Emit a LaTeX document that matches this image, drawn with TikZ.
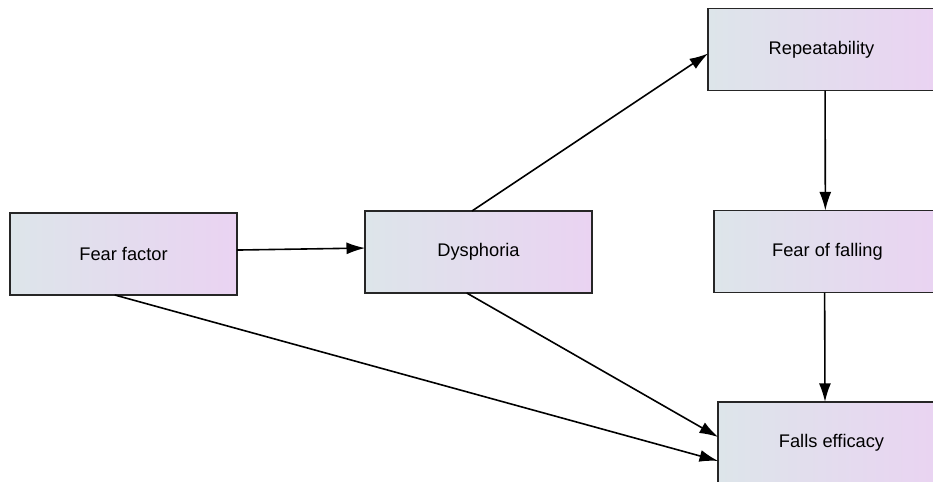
\documentclass[tikz,border=0pt]{standalone}
\usepackage{tikz}
\usepackage{fontspec}
\setmainfont{Liberation Sans}
\usetikzlibrary{arrows.meta}
\definecolor{boxleft}{HTML}{DDE5EA}
\definecolor{boxright}{HTML}{EAD3F2}

\begin{document}
\begin{tikzpicture}[x=0.75pt,y=-0.75pt,
	factorbox/.style={rectangle,draw=black!85,line width=1.2pt,left color=boxleft,right color=boxright,
		minimum width=170pt,minimum height=61.5pt,inner sep=0pt,outer sep=0pt,
		font=\fontsize{13.7}{16}\selectfont},
	effect/.style={line width=1.2pt,-{Latex[length=14pt,width=9pt]}}]
	% fix the page size
	\useasboundingbox (0,0) rectangle (933,482);
	% draw factors
	\node[factorbox] (fear) at (123.5,254) {Fear factor};
	\node[factorbox] (dys) at (478.5,252) {Dysphoria};
	\node[factorbox] (rep) at (821.5,49.5) {Repeatability};
	\node[factorbox] (fall) at (827.5,251.5) {Fear of falling};
	\node[factorbox] (eff) at (831.5,443) {Falls efficacy};
	% draw effects
	\draw[effect] (fear.2.5) -- (dys.178.5);
	\draw[effect] (dys.99) -- (rep.182.5);
	\draw[effect] (rep.275) -- (fall.93.5);
	\draw[effect] (fall.266.5) -- (eff.99);
	\draw[effect] (dys.254) -- (eff.177.5);
	\draw[effect] (fear.258) -- (eff.189);
\end{tikzpicture}
\end{document}
